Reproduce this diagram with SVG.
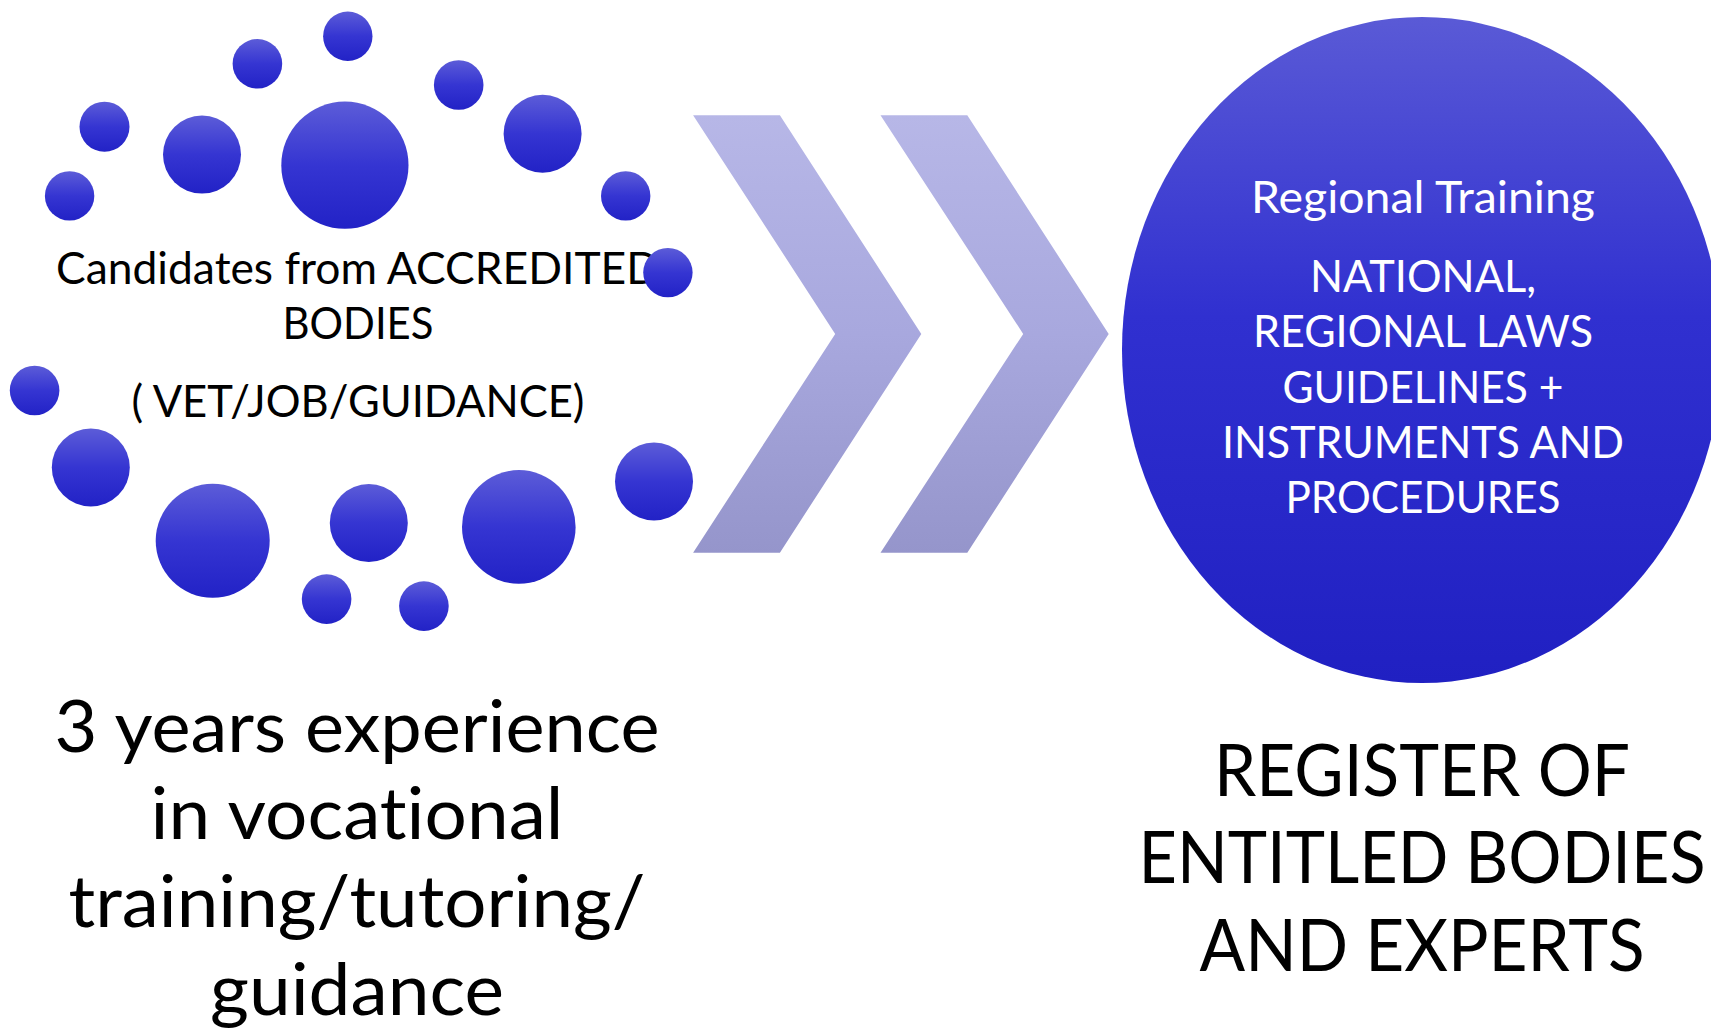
<svg xmlns="http://www.w3.org/2000/svg" width="1711" height="1028" viewBox="0 0 1711 1028">
<defs>
<linearGradient id="dot" x1="0" y1="0" x2="0" y2="1">
<stop offset="0" stop-color="#5c5cd8"/>
<stop offset="0.5" stop-color="#3535d2"/>
<stop offset="1" stop-color="#2222c6"/>
</linearGradient>
<linearGradient id="big" x1="0" y1="0" x2="0" y2="1">
<stop offset="0" stop-color="#5a5ad6"/>
<stop offset="0.45" stop-color="#3030d0"/>
<stop offset="1" stop-color="#2020c2"/>
</linearGradient>
<linearGradient id="chev" gradientUnits="userSpaceOnUse" x1="0" y1="115" x2="0" y2="553">
<stop offset="0" stop-color="#b7b7e7"/>
<stop offset="0.5" stop-color="#a8a8de"/>
<stop offset="1" stop-color="#9595cb"/>
</linearGradient>
</defs>
<style>
.dot{fill:url(#dot)}
.chev{fill:url(#chev)}
.t{font-family:Lato,"Liberation Sans",sans-serif;text-anchor:middle;font-variant-ligatures:none}
.blk{fill:#000}
.wht{fill:#fff}
.s50{font-size:45px}
.s80{font-size:72px}
</style>
<rect width="1711" height="1028" fill="#fff"/>

<g id="candidates-node">
<text class="t blk s50" x="358" y="284" textLength="604" lengthAdjust="spacingAndGlyphs">Candidates from ACCREDITED</text>
<text class="t blk s50" x="358" y="339" textLength="151" lengthAdjust="spacingAndGlyphs">BODIES</text>
<text class="t blk s50" x="358" y="417" textLength="453" lengthAdjust="spacingAndGlyphs">( VET/JOB/GUIDANCE)</text>
<g id="dots">
<circle class="dot" cx="347.8" cy="36.3" r="24.7"/>
<circle class="dot" cx="257.4" cy="63.8" r="24.8"/>
<circle class="dot" cx="458.7" cy="85" r="24.8"/>
<circle class="dot" cx="104.5" cy="126.7" r="25"/>
<circle class="dot" cx="202" cy="154.6" r="39"/>
<circle class="dot" cx="344.9" cy="165.2" r="63.6"/>
<circle class="dot" cx="542.6" cy="133.7" r="39"/>
<circle class="dot" cx="69.6" cy="195.9" r="24.7"/>
<circle class="dot" cx="625.7" cy="195.9" r="24.7"/>
<circle class="dot" cx="667.9" cy="272.6" r="24.7"/>
<circle class="dot" cx="34.6" cy="390.5" r="24.8"/>
<circle class="dot" cx="90.8" cy="467.5" r="39"/>
<circle class="dot" cx="212.7" cy="540.8" r="57"/>
<circle class="dot" cx="368.8" cy="523" r="39"/>
<circle class="dot" cx="518.8" cy="526.9" r="56.8"/>
<circle class="dot" cx="654" cy="481.5" r="39"/>
<circle class="dot" cx="326.6" cy="599.1" r="24.8"/>
<circle class="dot" cx="423.9" cy="606.1" r="24.8"/>
</g>
</g>

<g id="connectors">
<polygon class="chev" points="693.1,115.2 779.9,115.2 921.3,333.9 779.9,552.7 693.1,552.7 835.2,333.9"/>
<polygon class="chev" points="880.5,115.2 967.3,115.2 1108.7,333.9 967.3,552.7 880.5,552.7 1023.2,333.9"/>
</g>

<g id="training-node">
<ellipse cx="1422" cy="350" rx="300" ry="333" fill="url(#big)"/>
<text class="t wht" style="font-size:44px" x="1423" y="213" textLength="344" lengthAdjust="spacingAndGlyphs">Regional Training</text>
<text class="t wht s50" x="1423" y="292.4" textLength="226" lengthAdjust="spacingAndGlyphs">NATIONAL,</text>
<text class="t wht s50" x="1423" y="347.4" textLength="340" lengthAdjust="spacingAndGlyphs">REGIONAL LAWS</text>
<text class="t wht s50" x="1423" y="403" textLength="281" lengthAdjust="spacingAndGlyphs">GUIDELINES +</text>
<text class="t wht s50" x="1423" y="458.4" textLength="402" lengthAdjust="spacingAndGlyphs">INSTRUMENTS AND</text>
<text class="t wht s50" x="1423" y="513.4" textLength="275" lengthAdjust="spacingAndGlyphs">PROCEDURES</text>
</g>

<g id="experience-label">
<text class="t blk s80" x="357" y="751.7" textLength="605" lengthAdjust="spacingAndGlyphs">3 years experience</text>
<text class="t blk s80" x="357" y="839.3" textLength="413" lengthAdjust="spacingAndGlyphs">in vocational</text>
<text class="t blk s80" x="357" y="927.3" textLength="577" lengthAdjust="spacingAndGlyphs">training/tutoring/</text>
<text class="t blk s80" x="357" y="1015" textLength="294" lengthAdjust="spacingAndGlyphs">guidance</text>
</g>

<g id="register-label">
<text class="t blk s80" x="1422" y="795.7" textLength="416" lengthAdjust="spacingAndGlyphs">REGISTER OF</text>
<text class="t blk s80" x="1422" y="883.3" textLength="567" lengthAdjust="spacingAndGlyphs">ENTITLED BODIES</text>
<text class="t blk s80" x="1422" y="971" textLength="445" lengthAdjust="spacingAndGlyphs">AND EXPERTS</text>
</g>
</svg>
